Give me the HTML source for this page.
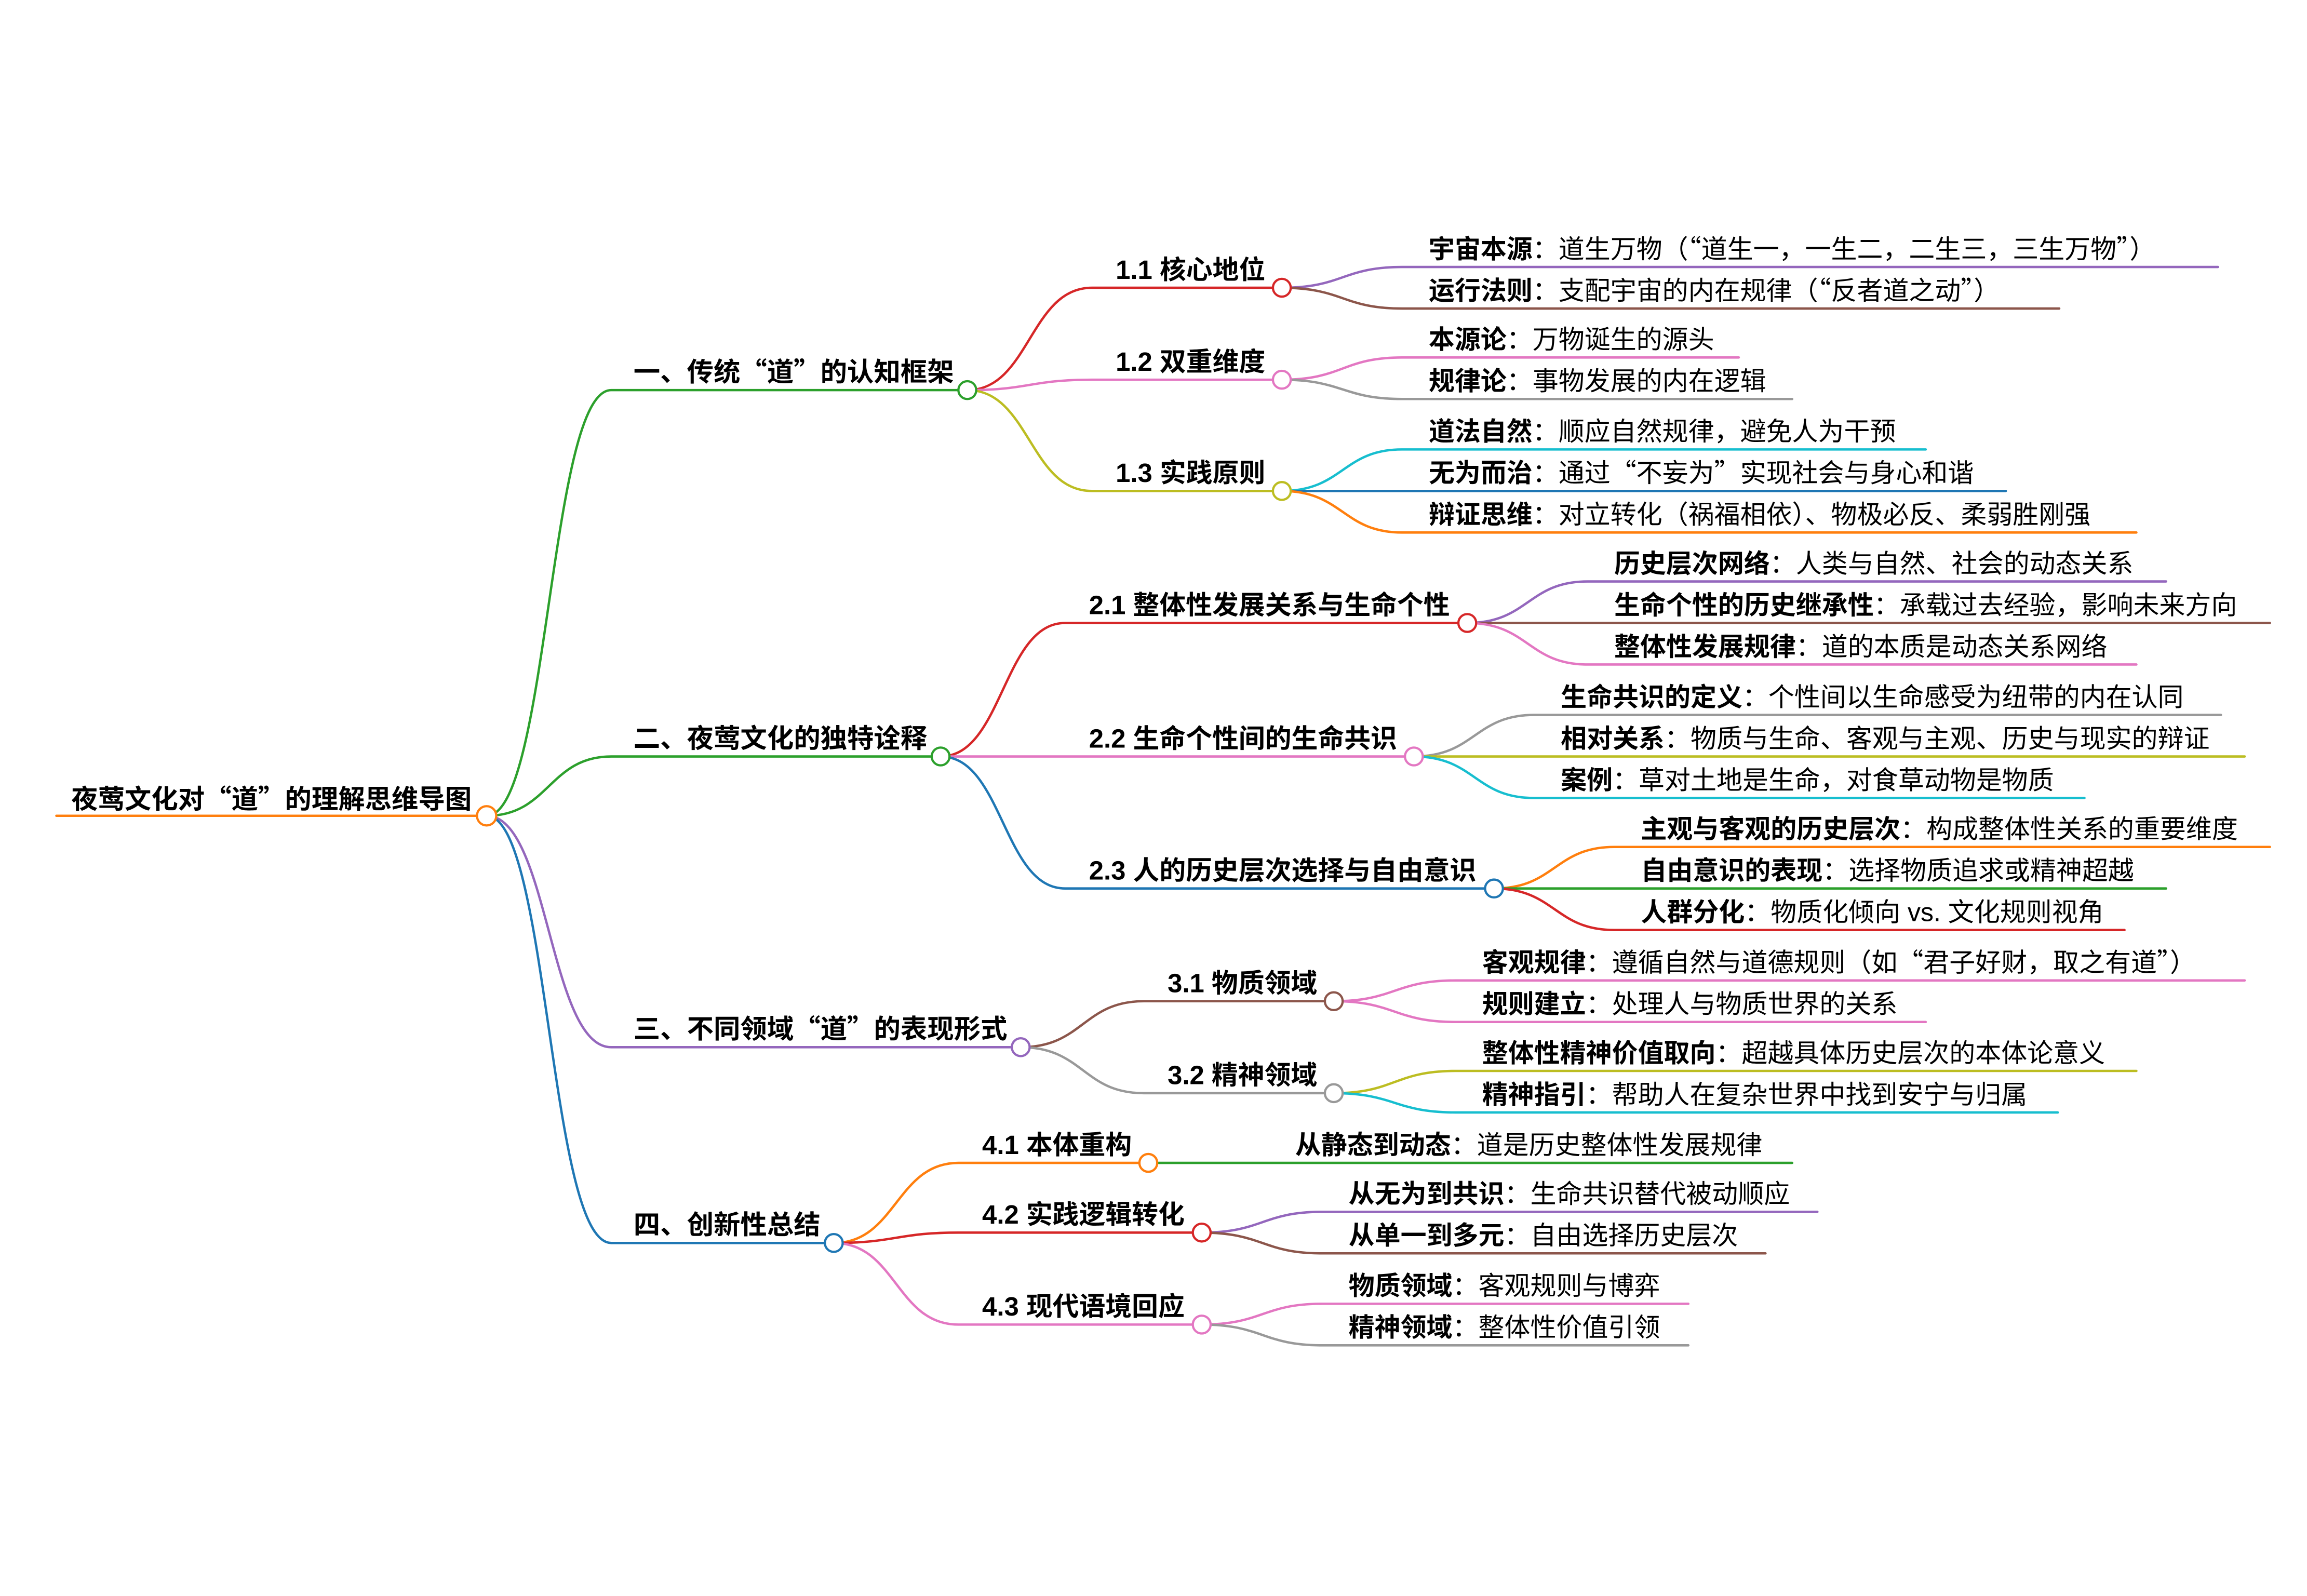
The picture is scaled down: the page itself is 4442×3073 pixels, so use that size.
<!DOCTYPE html>
<html><head><meta charset="utf-8">
<style>
html,body{margin:0;padding:0;background:#fff;}
svg{display:block;}
text{font-family:"Liberation Sans","Noto Sans CJK SC",sans-serif;fill:#000;}
.q{font-family:"Noto Sans CJK SC",sans-serif;font-feature-settings:"fwid";}
.b{font-weight:bold;}
.l1{font-size:18px;font-weight:bold;}
.l2{font-size:17.8px;font-weight:bold;}
.lf{font-size:17.5px;}
path{fill:none;stroke-width:1.6;stroke-linecap:round;}
circle{fill:#fff;stroke-width:1.5;}
</style></head><body>
<svg width="4442" height="3073" viewBox="0 0 1555 1076" preserveAspectRatio="none" xmlns="http://www.w3.org/2000/svg">
<path d="M38 550 H328" stroke="#ff7f0e" stroke-width="2.2"/>
<text class="l1" x="48" y="545">夜莺文化对<tspan class="q">“</tspan>道<tspan class="q">”</tspan>的理解思维导图</text>

<path d="M328 550 C370 550 370 263 412 263 H652" stroke="#2ca02c"/>
<path d="M328 550 C370 550 370 510 412 510 H634" stroke="#2ca02c"/>
<path d="M328 550 C370 550 370 706 412 706 H688" stroke="#9467bd"/>
<path d="M328 550 C370 550 370 838 412 838 H562" stroke="#1f77b4"/>
<text class="l1" x="427" y="257">一、传统<tspan class="q">“</tspan>道<tspan class="q">”</tspan>的认知框架</text>
<text class="l1" x="427" y="504">二、夜莺文化的独特诠释</text>
<text class="l1" x="427" y="700">三、不同领域<tspan class="q">“</tspan>道<tspan class="q">”</tspan>的表现形式</text>
<text class="l1" x="427" y="832">四、创新性总结</text>

<path d="M652 263 C694 263 694 194 736 194 H864" stroke="#d62728"/>
<path d="M652 263 C694 263 694 256 736 256 H864" stroke="#e377c2"/>
<path d="M652 263 C694 263 694 331 736 331 H864" stroke="#bcbd22"/>
<path d="M634 510 C676 510 676 420 718 420 H989" stroke="#d62728"/>
<path d="M634 510 C676 510 676 510 718 510 H953" stroke="#e377c2"/>
<path d="M634 510 C676 510 676 599 718 599 H1007" stroke="#1f77b4"/>
<path d="M688 706 C730 706 730 675 771 675 H899" stroke="#8c564b"/>
<path d="M688 706 C730 706 730 737 771 737 H899" stroke="#999999"/>
<path d="M562 838 C604 838 604 784 646 784 H774" stroke="#ff7f0e"/>
<path d="M562 838 C604 838 604 831 646 831 H810" stroke="#d62728"/>
<path d="M562 838 C604 838 604 893 646 893 H810" stroke="#e377c2"/>
<text class="l2" x="752" y="188">1.1 核心地位</text>
<text class="l2" x="752" y="250">1.2 双重维度</text>
<text class="l2" x="752" y="325">1.3 实践原则</text>
<text class="l2" x="734" y="414">2.1 整体性发展关系与生命个性</text>
<text class="l2" x="734" y="504">2.2 生命个性间的生命共识</text>
<text class="l2" x="734" y="593">2.3 人的历史层次选择与自由意识</text>
<text class="l2" x="787" y="669">3.1 物质领域</text>
<text class="l2" x="787" y="731">3.2 精神领域</text>
<text class="l2" x="662" y="778">4.1 本体重构</text>
<text class="l2" x="662" y="825">4.2 实践逻辑转化</text>
<text class="l2" x="662" y="887">4.3 现代语境回应</text>

<path d="M864 194 C905 194 905 180 945 180 H1495" stroke="#9467bd"/>
<path d="M864 194 C905 194 905 208 945 208 H1388" stroke="#8c564b"/>
<path d="M864 256 C905 256 905 241 945 241 H1172" stroke="#e377c2"/>
<path d="M864 256 C905 256 905 269 945 269 H1208" stroke="#999999"/>
<path d="M864 331 C905 331 905 303 945 303 H1298" stroke="#17becf"/>
<path d="M864 331 C905 331 905 331 945 331 H1352" stroke="#1f77b4"/>
<path d="M864 331 C905 331 905 359 945 359 H1440" stroke="#ff7f0e"/>

<path d="M989 420 C1030 420 1030 392 1070 392 H1460" stroke="#9467bd"/>
<path d="M989 420 C1030 420 1030 420 1070 420 H1530" stroke="#8c564b"/>
<path d="M989 420 C1030 420 1030 448 1070 448 H1440" stroke="#e377c2"/>
<path d="M953 510 C994 510 994 482 1034 482 H1497" stroke="#999999"/>
<path d="M953 510 C994 510 994 510 1034 510 H1513" stroke="#bcbd22"/>
<path d="M953 510 C994 510 994 538 1034 538 H1405" stroke="#17becf"/>
<path d="M1007 599 C1048 599 1048 571 1088 571 H1530" stroke="#ff7f0e"/>
<path d="M1007 599 C1048 599 1048 599 1088 599 H1460" stroke="#2ca02c"/>
<path d="M1007 599 C1048 599 1048 627 1088 627 H1432" stroke="#d62728"/>

<path d="M899 675 C940 675 940 661 981 661 H1513" stroke="#e377c2"/>
<path d="M899 675 C940 675 940 689 981 689 H1298" stroke="#e377c2"/>
<path d="M899 737 C940 737 940 722 981 722 H1440" stroke="#bcbd22"/>
<path d="M899 737 C940 737 940 750 981 750 H1387" stroke="#17becf"/>

<path d="M774 784 H1208" stroke="#2ca02c"/>
<path d="M810 831 C851 831 851 817 891 817 H1225" stroke="#9467bd"/>
<path d="M810 831 C851 831 851 845 891 845 H1190" stroke="#8c564b"/>
<path d="M810 893 C851 893 851 879 891 879 H1138" stroke="#e377c2"/>
<path d="M810 893 C851 893 851 907 891 907 H1138" stroke="#999999"/>

<text class="lf" x="963" y="174"><tspan class="b">宇宙本源</tspan>：道生万物（<tspan class="q">“</tspan>道生一，一生二，二生三，三生万物<tspan class="q">”</tspan>）</text>
<text class="lf" x="963" y="202"><tspan class="b">运行法则</tspan>：支配宇宙的内在规律（<tspan class="q">“</tspan>反者道之动<tspan class="q">”</tspan>）</text>
<text class="lf" x="963" y="235"><tspan class="b">本源论</tspan>：万物诞生的源头</text>
<text class="lf" x="963" y="263"><tspan class="b">规律论</tspan>：事物发展的内在逻辑</text>
<text class="lf" x="963" y="297"><tspan class="b">道法自然</tspan>：顺应自然规律，避免人为干预</text>
<text class="lf" x="963" y="325"><tspan class="b">无为而治</tspan>：通过<tspan class="q">“</tspan>不妄为<tspan class="q">”</tspan>实现社会与身心和谐</text>
<text class="lf" x="963" y="353"><tspan class="b">辩证思维</tspan>：对立转化（祸福相依）、物极必反、柔弱胜刚强</text>

<text class="lf" x="1088" y="386"><tspan class="b">历史层次网络</tspan>：人类与自然、社会的动态关系</text>
<text class="lf" x="1088" y="414"><tspan class="b">生命个性的历史继承性</tspan>：承载过去经验，影响未来方向</text>
<text class="lf" x="1088" y="442"><tspan class="b">整体性发展规律</tspan>：道的本质是动态关系网络</text>
<text class="lf" x="1052" y="476"><tspan class="b">生命共识的定义</tspan>：个性间以生命感受为纽带的内在认同</text>
<text class="lf" x="1052" y="504"><tspan class="b">相对关系</tspan>：物质与生命、客观与主观、历史与现实的辩证</text>
<text class="lf" x="1052" y="532"><tspan class="b">案例</tspan>：草对土地是生命，对食草动物是物质</text>
<text class="lf" x="1106" y="565"><tspan class="b">主观与客观的历史层次</tspan>：构成整体性关系的重要维度</text>
<text class="lf" x="1106" y="593"><tspan class="b">自由意识的表现</tspan>：选择物质追求或精神超越</text>
<text class="lf" x="1106" y="621"><tspan class="b">人群分化</tspan>：物质化倾向 vs. 文化规则视角</text>

<text class="lf" x="999" y="655"><tspan class="b">客观规律</tspan>：遵循自然与道德规则（如<tspan class="q">“</tspan>君子好财，取之有道<tspan class="q">”</tspan>）</text>
<text class="lf" x="999" y="683"><tspan class="b">规则建立</tspan>：处理人与物质世界的关系</text>
<text class="lf" x="999" y="716"><tspan class="b">整体性精神价值取向</tspan>：超越具体历史层次的本体论意义</text>
<text class="lf" x="999" y="744"><tspan class="b">精神指引</tspan>：帮助人在复杂世界中找到安宁与归属</text>

<text class="lf" x="873" y="778"><tspan class="b">从静态到动态</tspan>：道是历史整体性发展规律</text>
<text class="lf" x="909" y="811"><tspan class="b">从无为到共识</tspan>：生命共识替代被动顺应</text>
<text class="lf" x="909" y="839"><tspan class="b">从单一到多元</tspan>：自由选择历史层次</text>
<text class="lf" x="909" y="873"><tspan class="b">物质领域</tspan>：客观规则与博弈</text>
<text class="lf" x="909" y="901"><tspan class="b">精神领域</tspan>：整体性价值引领</text>

<circle cx="328" cy="550" r="6.5" stroke="#ff7f0e"/>
<circle cx="652" cy="263" r="6" stroke="#2ca02c"/>
<circle cx="634" cy="510" r="6" stroke="#2ca02c"/>
<circle cx="688" cy="706" r="6" stroke="#9467bd"/>
<circle cx="562" cy="838" r="6" stroke="#1f77b4"/>
<circle cx="864" cy="194" r="6" stroke="#d62728"/>
<circle cx="864" cy="256" r="6" stroke="#e377c2"/>
<circle cx="864" cy="331" r="6" stroke="#bcbd22"/>
<circle cx="989" cy="420" r="6" stroke="#d62728"/>
<circle cx="953" cy="510" r="6" stroke="#e377c2"/>
<circle cx="1007" cy="599" r="6" stroke="#1f77b4"/>
<circle cx="899" cy="675" r="6" stroke="#8c564b"/>
<circle cx="899" cy="737" r="6" stroke="#999999"/>
<circle cx="774" cy="784" r="6" stroke="#ff7f0e"/>
<circle cx="810" cy="831" r="6" stroke="#d62728"/>
<circle cx="810" cy="893" r="6" stroke="#e377c2"/>
</svg>
</body></html>
